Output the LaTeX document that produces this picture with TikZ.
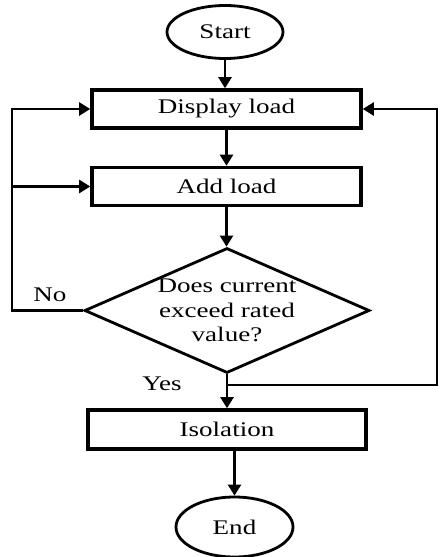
\documentclass[tikz,border=0pt]{standalone}
\usepackage{fontspec}
\setmainfont{Liberation Serif}[FakeStretch=1.3]
\usetikzlibrary{shapes.geometric, arrows.meta}

\begin{document}
\begin{tikzpicture}[x=0.5pt, y=-0.5pt,
        every node/.style={inner sep=0pt, font=\fontsize{10.4}{12.4}\selectfont},
        terminal/.style={draw, ellipse, line width=1.4pt},
        process/.style={draw, rectangle, line width=1.8pt, minimum width=134.5pt, minimum height=19pt},
        decision/.style={draw, diamond, line width=1.4pt, minimum width=142.5pt, minimum height=62.5pt},
        flow/.style={line width=1.2pt, -{Triangle[width=6.5pt, length=5.5pt]}}]
            \useasboundingbox (0, 0) rectangle (440, 557);
            \node [terminal, minimum width=58pt, minimum height=26.5pt] (start) at (225, 32) {Start};
            \node [process] (disp) at (226.5, 109) {Display load};
            \node [process] (add) at (226.5, 186.5) {Add load};
            \node [decision, label={[align=center, font=\fontsize{10.4}{12.4}\selectfont]center:Does current\\exceed rated\\value?}] (dec) at (227, 310.5) {};
            \node [process, minimum width=139pt, minimum height=19.5pt] (iso) at (227, 429.5) {Isolation};
            \node [terminal, minimum width=58.5pt, minimum height=30pt] (stop) at (234.5, 527) {End};
            \coordinate (lc) at (12, 310.5);
            \coordinate (yb) at (227, 385);
            \coordinate (rc) at (437, 385);
            \draw [flow] (start) -- (start |- disp.north);
            \draw [flow] (disp) -- (disp |- add.north);
            \draw [flow] (add) -- (add |- dec.north);
            \draw [flow] (dec.south) -- (iso.north);
            \draw [flow] (stop |- iso.south) -- (stop.north);
            \draw [flow] (dec.west) -- (lc) |- (disp.west);
            \draw [flow] (lc |- add.west) -- (add.west);
            \draw [flow] (yb) -- (rc) |- (disp.east);
            \node (no) at (50, 295) {No};
            \node (yes) at (162, 384) {Yes};
        \end{tikzpicture}
\end{document}
